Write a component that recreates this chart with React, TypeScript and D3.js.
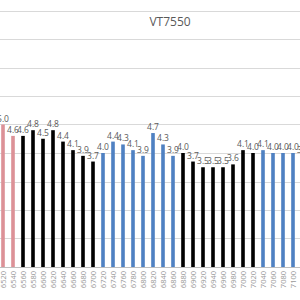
import React from "react";
import * as d3 from "d3";

const categories = [
  "6520","6540","6560","6580","6600","6620","6640","6660","6680","6700",
  "6720","6740","6760","6780","6800","6820","6840","6860","6880","6900",
  "6920","6940","6960","6980","7000","7020","7040","7060","7080","7100","7120",
];
const values = [
  5.0, 4.6, 4.6, 4.8, 4.5, 4.8, 4.4, 4.1, 3.9, 3.7,
  4.0, 4.4, 4.3, 4.1, 3.9, 4.7, 4.3, 3.9, 4.0, 3.7,
  3.5, 3.5, 3.5, 3.6, 4.1, 4.0, 4.1, 4.0, 4.0, 4.0, 3.9,
];
const groups = [
  "p","p","k","k","k","k","k","k","k","k",
  "b","b","b","b","b","b","b","b","k","k",
  "k","k","k","k","k","k","b","b","b","b","b",
];
const yTicks = [0, 1, 2, 3, 4, 5, 6, 7, 8, 9];
const title = "VT7550";

export default function App() {
  const W = 300, H = 300;
  const x = d3.scaleBand<string>().domain(categories).range([-2, 308]).paddingInner(0.64).paddingOuter(0.32);
  const y = d3.scaleLinear().domain([0, 9]).range([267, 10.5]);
  const color = d3.scaleOrdinal<string, string>().domain(["p", "k", "b"]).range(["#dc9197", "#000000", "#4f81c2"]);
  const font = "'Open Sans', 'Noto Sans', sans-serif";
  return (
    <svg width={W} height={H} style={{ position: "absolute", left: 0, top: 0, background: "#fff" }} fontFamily={font}>
      {yTicks.map((t) => (
        <line key={t} x1={0} x2={W} y1={Math.round(y(t)) + 0.5} y2={Math.round(y(t)) + 0.5}
          stroke={t === 0 ? "#bfbfbf" : "#d9d9d9"} strokeWidth={1} />
      ))}
      <text x={170} y={26} textAnchor="middle" fontSize={12} fill="#595959">{title}</text>
      {categories.map((c, i) => {
        const cx = (x(c) as number) + x.bandwidth() / 2;
        return (
          <g key={c}>
            <rect x={x(c)} y={y(values[i])} width={x.bandwidth()} height={y(0) - y(values[i])} fill={color(groups[i])} />
            <text x={cx} y={y(values[i]) - 3} textAnchor="middle" fontSize={8.5} fill="#595959">{values[i].toFixed(1)}</text>
            <text transform={`translate(${cx + 3},271) rotate(-90)`} textAnchor="end" fontSize={7.5} fill="#999999">{c}</text>
          </g>
        );
      })}
    </svg>
  );
}
